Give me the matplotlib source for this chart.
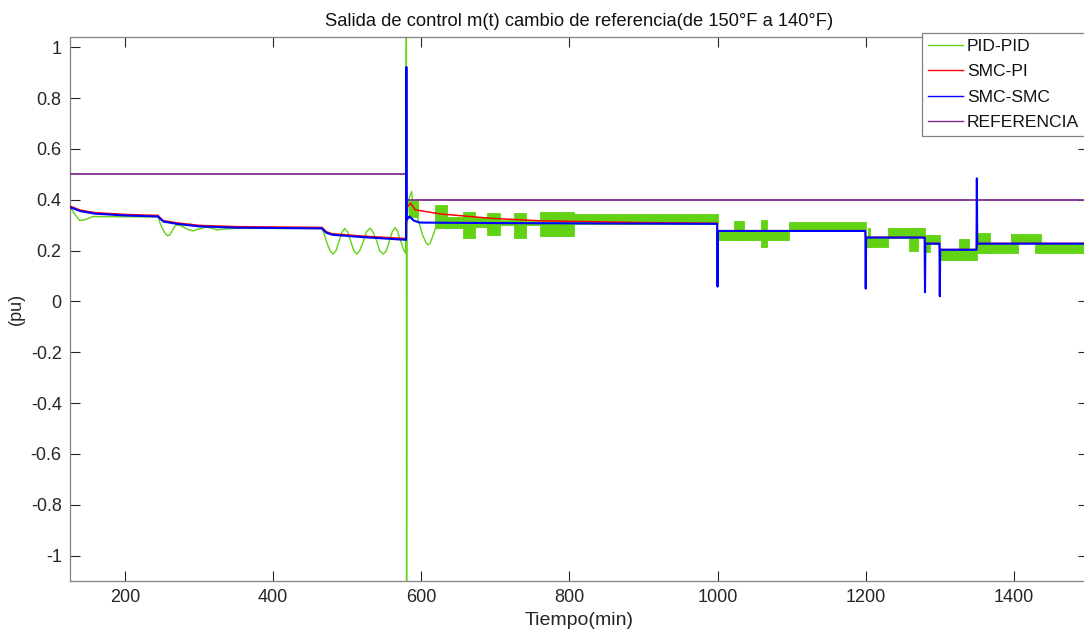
import matplotlib
matplotlib.use("Agg")
import matplotlib.pyplot as plt

plt.rcParams['font.family'] = ['Liberation Sans', 'DejaVu Sans']
plt.rcParams['axes.unicode_minus'] = False

# PID-PID: smooth part of the response (time in min, output in pu)
green_t = [126, 132, 139, 147, 157, 170, 200, 245,
           248, 251, 255, 258, 261, 264, 267, 270, 274, 278, 285, 292, 300, 310, 318, 325, 335, 350,
           466, 469, 473, 477, 481, 485, 489, 493, 497, 501, 505, 509, 513, 517, 522, 526,
           531, 535, 540, 544, 549, 553, 557, 561, 565, 568, 572, 576, 579,
           580, 580.3, 580.8, 583, 587, 590, 595, 599, 602, 606, 609, 612, 616, 619, 622]
green_y = [0.370, 0.345, 0.318, 0.322, 0.334, 0.333, 0.333, 0.332,
           0.305, 0.285, 0.265, 0.258, 0.262, 0.278, 0.294, 0.301, 0.299, 0.294, 0.283, 0.277, 0.285, 0.292, 0.287, 0.281, 0.285, 0.287,
           0.287, 0.265, 0.228, 0.199, 0.186, 0.199, 0.236, 0.272, 0.287, 0.272, 0.236, 0.199, 0.186, 0.199, 0.237, 0.273,
           0.288, 0.273, 0.237, 0.199, 0.186, 0.199, 0.238, 0.275, 0.290, 0.276, 0.240, 0.205, 0.190,
           1.10, -1.20, 0.30, 0.40, 0.432, 0.36, 0.33, 0.29, 0.26, 0.235, 0.222, 0.228, 0.26, 0.285, 0.30]

# PID-PID: chattering bands (start, end, lower, upper)
band_t0 = [583, 619, 635, 657, 673, 689, 707, 725, 741, 761, 806,
           1000, 1022, 1058, 1097, 1200, 1203, 1230, 1258, 1280, 1287,
           1300, 1326, 1350, 1350, 1396, 1396, 1428]
band_t1 = [596, 635, 657, 673, 689, 707, 725, 741, 761, 806, 1000,
           1097, 1036, 1067, 1200, 1230, 1206, 1280, 1270, 1287, 1300,
           1350, 1340, 1396, 1368, 1436, 1405, 1500]
band_lo = [0.33, 0.29, 0.289, 0.249, 0.294, 0.262, 0.300, 0.249, 0.300, 0.256, 0.304,
           0.242, 0.242, 0.215, 0.281, 0.214, 0.214, 0.250, 0.197, 0.196, 0.227,
           0.163, 0.163, 0.190, 0.190, 0.230, 0.190, 0.190]
band_hi = [0.40, 0.38, 0.333, 0.353, 0.333, 0.348, 0.320, 0.348, 0.315, 0.353, 0.345,
           0.281, 0.315, 0.320, 0.314, 0.250, 0.290, 0.289, 0.289, 0.262, 0.262,
           0.203, 0.245, 0.227, 0.270, 0.265, 0.265, 0.230]

# SMC-PI
red_t = [126, 140, 160, 200, 245, 246, 252, 270, 300, 350, 466, 472, 480, 520, 579.5,
         580, 580.5, 586, 592, 626, 693, 761, 896, 999.5,
         1000, 1199.5, 1200, 1279.5, 1280, 1299.5, 1300, 1349.5, 1350, 1500]
red_y = [0.375, 0.359, 0.349, 0.342, 0.338, 0.334, 0.318, 0.309, 0.299, 0.294, 0.291, 0.274, 0.266, 0.257, 0.247,
         0.250, 0.370, 0.386, 0.360, 0.344, 0.327, 0.317, 0.310, 0.307,
         0.278, 0.278, 0.252, 0.252, 0.228, 0.228, 0.204, 0.204, 0.228, 0.228]

# SMC-SMC
blue_t = [126, 140, 160, 200, 245, 246, 252, 270, 300, 350, 466, 472, 480, 520, 579.5,
          580, 580.5, 584, 590, 598, 700, 999.5,
          1000, 1000.5, 1199.5, 1200, 1200.5, 1279.5, 1280, 1280.5,
          1299.5, 1300, 1300.5, 1349.5, 1350, 1350.5, 1500]
blue_y = [0.370, 0.355, 0.345, 0.338, 0.334, 0.330, 0.314, 0.305, 0.295, 0.290, 0.287, 0.270, 0.262, 0.253, 0.242,
          0.922, 0.320, 0.334, 0.318, 0.310, 0.308, 0.305,
          0.058, 0.277, 0.277, 0.050, 0.251, 0.251, 0.036, 0.227,
          0.227, 0.020, 0.203, 0.203, 0.484, 0.227, 0.227]

# Set point
ref_t = [126, 580, 580, 1500]
ref_y = [0.5, 0.5, 0.4, 0.4]

xticks = [200, 400, 600, 800, 1000, 1200, 1400]
yticks = [-1, -0.8, -0.6, -0.4, -0.2, 0, 0.2, 0.4, 0.6, 0.8, 1]
ytick_labels = ['-1', '-0.8', '-0.6', '-0.4', '-0.2', '0', '0.2', '0.4', '0.6', '0.8', '1']

c_green = '#62d214'
c_red = '#ff0000'
c_blue = '#0000ff'
c_purple = '#7e2f8e'

W, H = 1084, 632
fig = plt.figure(figsize=(W / 100, H / 100), dpi=100)
ax = fig.add_axes([70 / W, (H - 581) / H, (1088 - 70) / W, (581 - 37) / H])

l_green, = ax.plot(green_t, green_y, color=c_green, lw=1.0, zorder=2)
for t0, t1, lo, hi in zip(band_t0, band_t1, band_lo, band_hi):
    ax.fill_between([t0, t1], [lo, lo], [hi, hi], color=c_green, lw=0.6, zorder=2)
l_red, = ax.plot(red_t, red_y, color=c_red, lw=1.1, zorder=3)
l_ref, = ax.plot(ref_t, ref_y, color=c_purple, lw=1.3, zorder=3.5)
l_blue, = ax.plot(blue_t, blue_y, color=c_blue, lw=1.5, zorder=4)

ax.set_xlim(126, 1500)
ax.set_ylim(-1.1, 1.04)
ax.set_xticks(xticks)
ax.set_yticks(yticks)
ax.set_yticklabels(ytick_labels)

ax.tick_params(direction='in', length=7.5, width=0.8, top=True, right=True,
               labelsize=13, colors='#262626', pad=6)
for s in ax.spines.values():
    s.set_color('#808080')
    s.set_linewidth(0.9)

ax.set_title('Salida de control m(t) cambio de referencia(de 150°F a 140°F)',
             fontsize=13.2, color='#111111', pad=8)
ax.set_xlabel('Tiempo(min)', fontsize=14, color='#262626', labelpad=4)
ax.set_ylabel('(pu)', fontsize=13, color='#262626', labelpad=4)

leg = fig.legend([l_green, l_red, l_blue, l_ref],
                 ['PID-PID', 'SMC-PI', 'SMC-SMC', 'REFERENCIA'],
                 loc='upper left', bbox_to_anchor=(922 / W, 1 - 33 / H),
                 fontsize=12.6, frameon=True, fancybox=False, framealpha=1,
                 edgecolor='#808080', handlelength=2.0, handletextpad=0.25,
                 labelspacing=0.58, borderpad=0.32, borderaxespad=0)
leg.get_frame().set_linewidth(0.9)
for ln in leg.get_lines():
    ln.set_linewidth(1.0)
for t in leg.get_texts():
    t.set_color('#111111')

fig.savefig('out.png', dpi=100)
